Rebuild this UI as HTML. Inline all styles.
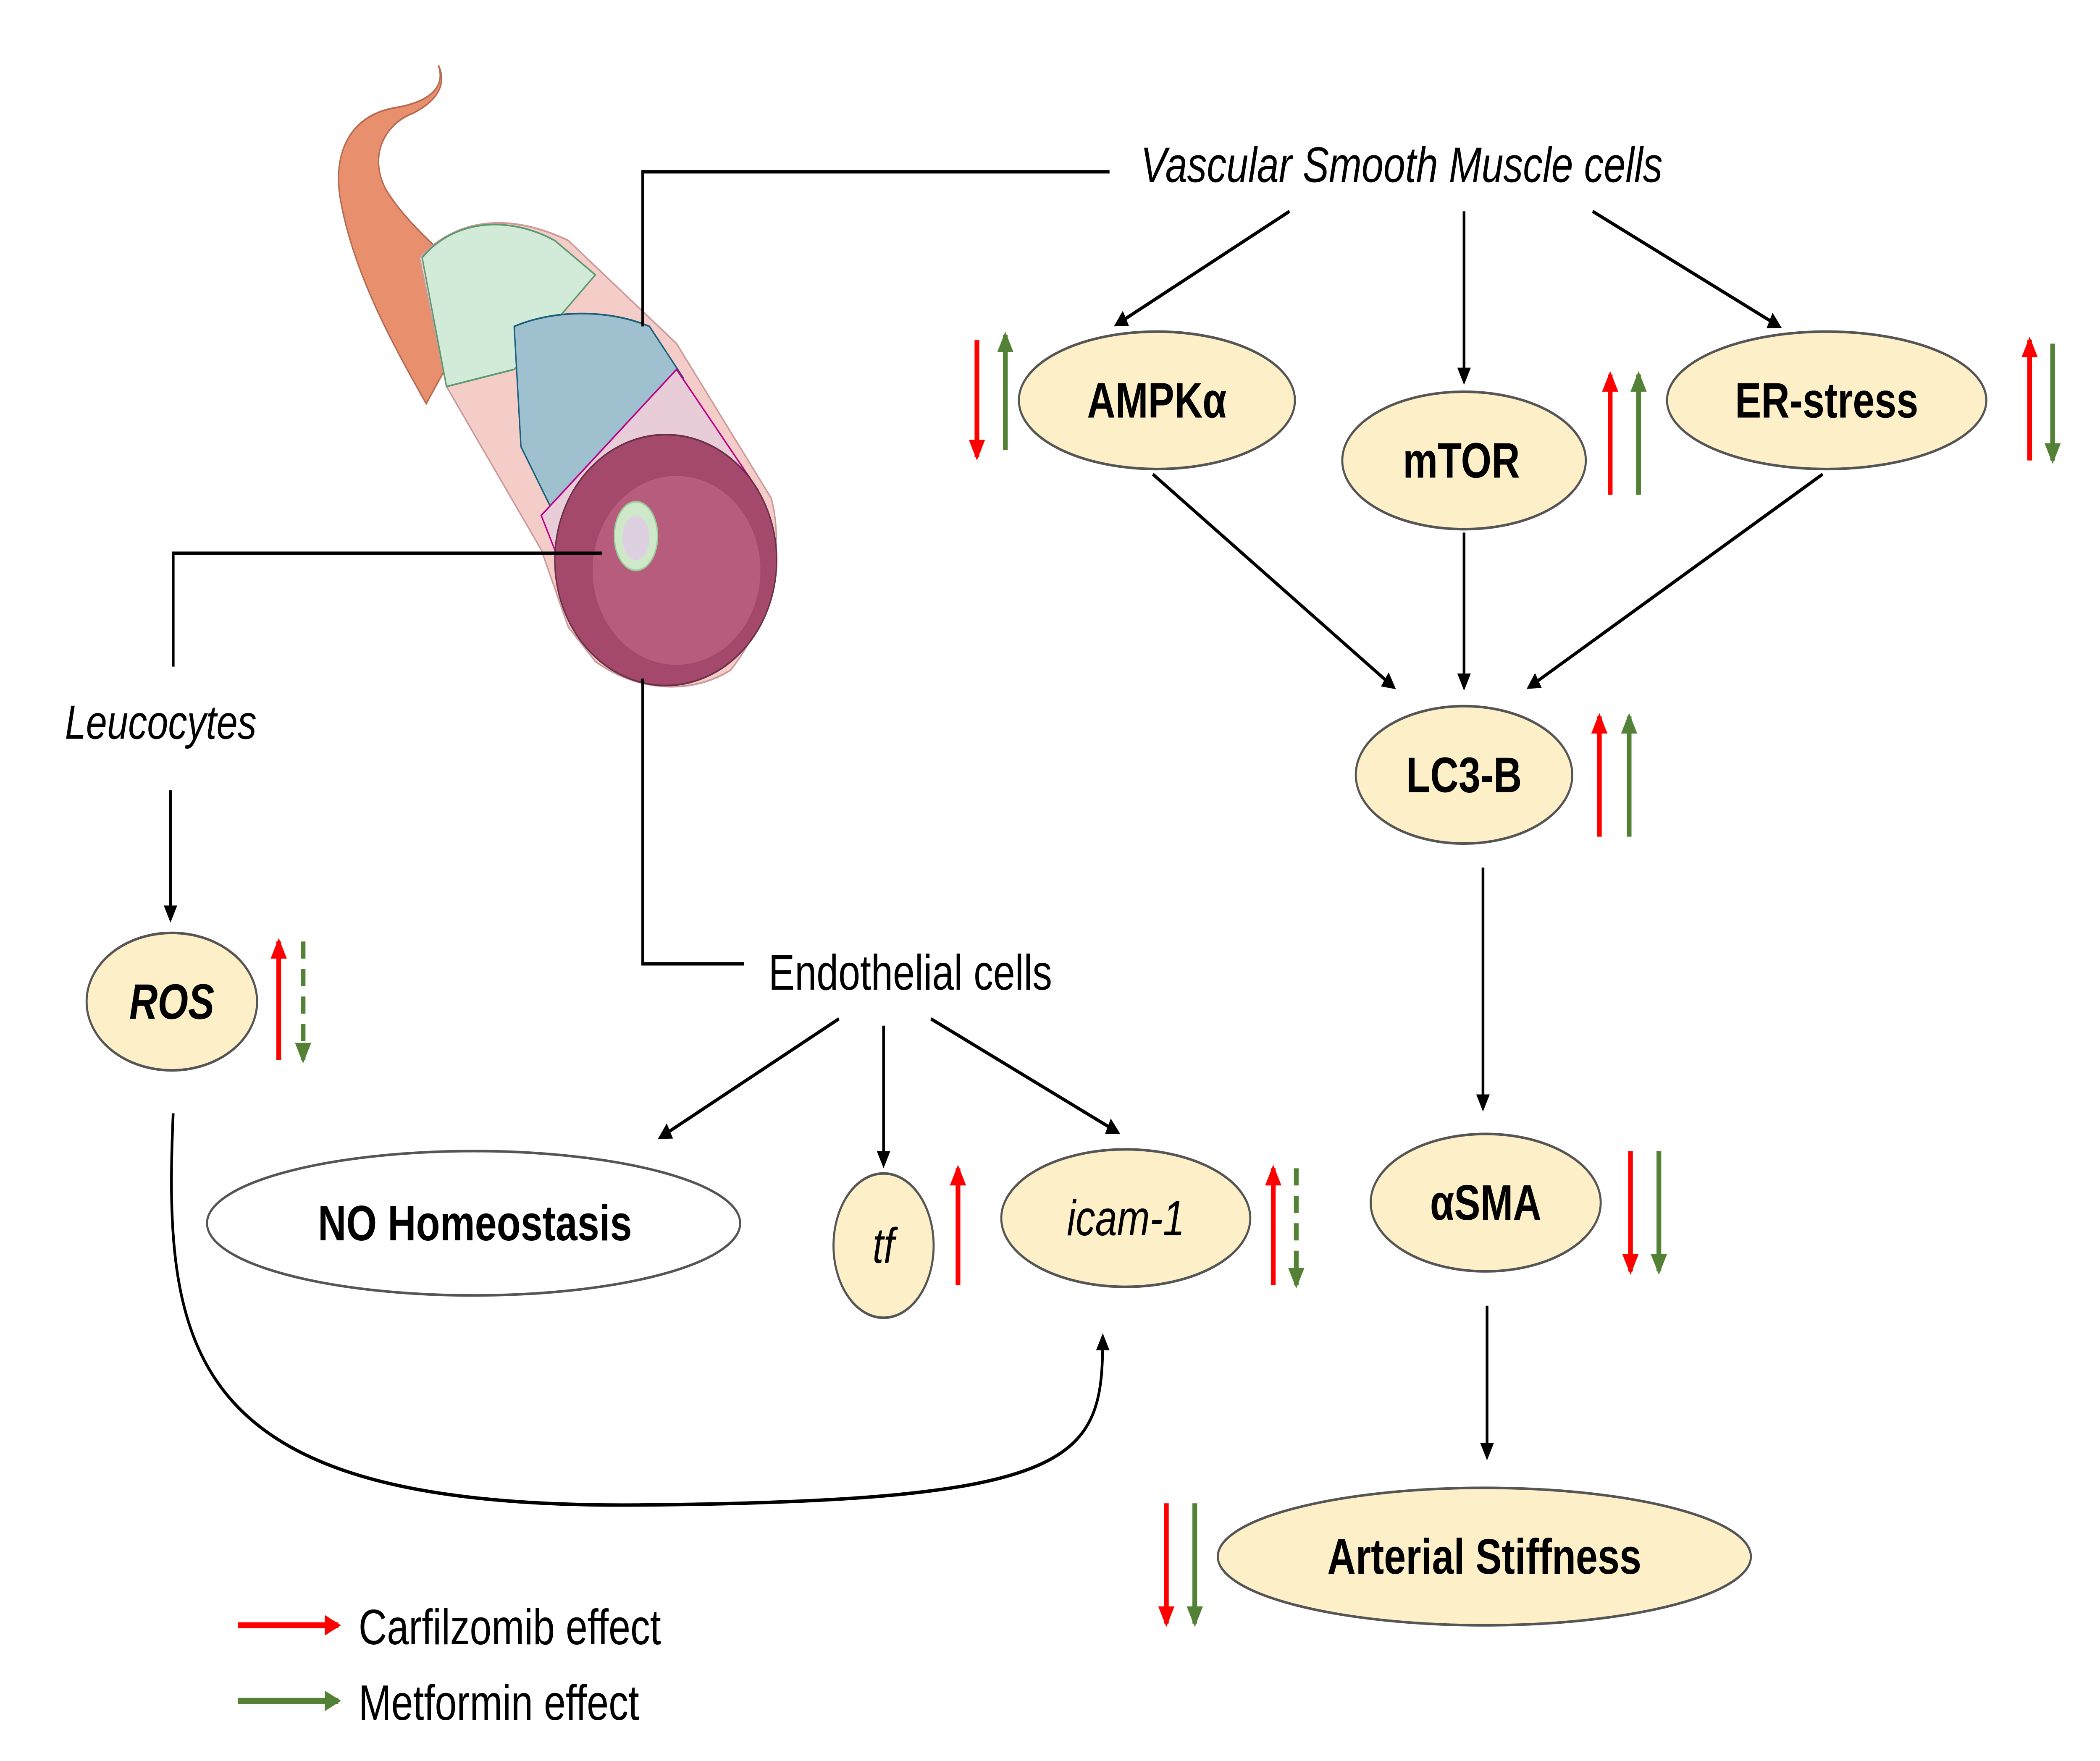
<!DOCTYPE html>
<html><head><meta charset="utf-8"><style>
html,body{margin:0;padding:0;background:#fff;width:100%;height:100%;overflow:hidden;}
svg{display:block;width:100vw;height:100vh;position:absolute;left:0;top:0;}
text{font-family:"Liberation Sans","DejaVu Sans",sans-serif;fill:#000;}
</style></head><body>
<svg viewBox="0 0 1552 1025" preserveAspectRatio="none" xmlns="http://www.w3.org/2000/svg">
<defs>
<marker id="ak" markerWidth="10" markerHeight="10" refX="8" refY="5" orient="auto" markerUnits="userSpaceOnUse"><path d="M0,0 L10,5 L0,10 z" fill="#000"/></marker>
<marker id="ar" markerWidth="12" markerHeight="12" refX="10" refY="6" orient="auto" markerUnits="userSpaceOnUse"><path d="M0,0 L12,6 L0,12 z" fill="#f00"/></marker>
<marker id="ag" markerWidth="12" markerHeight="12" refX="10" refY="6" orient="auto" markerUnits="userSpaceOnUse"><path d="M0,0 L12,6 L0,12 z" fill="#538135"/></marker>
</defs>
<rect width="1552" height="1025" fill="#fff"/>

<!-- artery sketch -->
<path d="M324,38 C330,52 315,60 290,63 C258,68 245,90 252,118 C262,160 290,200 315,235 L360,170 C330,150 300,130 285,110 C272,90 285,72 305,66 C325,58 330,48 324,38Z" fill="#e8906e" stroke="#b86a50"/>
<path d="M310,150 C340,125 380,125 420,140 L500,200 L570,290 C580,320 570,360 540,390 C510,405 470,402 440,385 L420,365 L400,320 L330,225 Z" fill="#f5cdc8" stroke="#c99"/>
<path d="M312,150 C335,128 375,125 410,140 L440,160 L380,215 L330,225 Z" fill="#d2ebd8" stroke="#5a9a6e"/>
<path d="M380,190 C410,180 450,180 480,190 L505,220 L410,300 L385,260 Z" fill="#9fc1cf" stroke="#1a5f7a"/>
<path d="M400,300 L500,215 L560,285 L430,360 Z" fill="#e8cdd8" stroke="#b08"/>
<ellipse cx="492" cy="326" rx="82" ry="73" fill="#a4496c" stroke="#6a3048"/>
<ellipse cx="500" cy="332" rx="62" ry="55" fill="#b85c7e"/>
<ellipse cx="470" cy="312" rx="16" ry="20" fill="#cfe8c9" stroke="#9c9"/>
<ellipse cx="470" cy="313" rx="10" ry="13" fill="#ddd0e0"/>

<g stroke="#000" stroke-width="2" fill="none">
<polyline points="475,190 475,100 820,100"/>
<polyline points="445,322 128,322 128,388"/>
<polyline points="475,395 475,561 550,561"/>
<line x1="953" y1="123" x2="825" y2="189" marker-end="url(#ak)"/>
<line x1="1082" y1="123" x2="1082" y2="222" marker-end="url(#ak)"/>
<line x1="1177" y1="123" x2="1315" y2="190" marker-end="url(#ak)"/>
<line x1="852" y1="276" x2="1030" y2="400" marker-end="url(#ak)"/>
<line x1="1082" y1="310" x2="1082" y2="400" marker-end="url(#ak)"/>
<line x1="1347" y1="276" x2="1130" y2="400" marker-end="url(#ak)"/>
<line x1="1096" y1="505" x2="1096" y2="645" marker-end="url(#ak)"/>
<line x1="1099" y1="760" x2="1099" y2="848" marker-end="url(#ak)"/>
<line x1="126" y1="460" x2="126" y2="535" marker-end="url(#ak)"/>
<line x1="620" y1="593" x2="488" y2="662" marker-end="url(#ak)"/>
<line x1="653" y1="597" x2="653" y2="678" marker-end="url(#ak)"/>
<line x1="688" y1="593" x2="826" y2="659" marker-end="url(#ak)"/>
<path d="M128,648 C120,790 140,878 470,876 C800,874 815,850 815,778" marker-end="url(#ak)"/>
</g>

<g stroke="#555" stroke-width="1.5">
<ellipse cx="855" cy="233" rx="102" ry="40" fill="#fdefc8"/>
<ellipse cx="1082" cy="268" rx="90" ry="40" fill="#fdefc8"/>
<ellipse cx="1350" cy="233" rx="118" ry="40" fill="#fdefc8"/>
<ellipse cx="1082" cy="451" rx="80" ry="40" fill="#fdefc8"/>
<ellipse cx="1098" cy="700" rx="85" ry="40" fill="#fdefc8"/>
<ellipse cx="1097" cy="906" rx="197" ry="40" fill="#fdefc8"/>
<ellipse cx="127" cy="583" rx="63" ry="40" fill="#fdefc8"/>
<ellipse cx="350" cy="712" rx="197" ry="42" fill="#fff"/>
<ellipse cx="653" cy="725" rx="37" ry="42" fill="#fdefc8"/>
<ellipse cx="832" cy="709" rx="92" ry="40" fill="#fdefc8"/>
</g>

<g font-weight="bold" font-size="29" text-anchor="middle">
<text x="855" y="243">AMPKα</text>
<text x="1080" y="278">mTOR</text>
<text x="1350" y="243">ER-stress</text>
<text x="1082" y="461">LC3-B</text>
<text x="1098" y="710">αSMA</text>
<text x="1097" y="916">Arterial Stiffness</text>
<text x="351" y="722">NO Homeostasis</text>
<text x="127" y="593" font-style="italic">ROS</text>
</g>
<g font-size="29" text-anchor="middle" font-style="italic">
<text x="653" y="735">tf</text>
<text x="832" y="719">icam-1</text>
</g>
<text x="843" y="106" font-size="29" font-style="italic">Vascular Smooth Muscle cells</text>
<text x="48" y="430" font-size="28" font-style="italic">Leucocytes</text>
<text x="568" y="576" font-size="29">Endothelial cells</text>
<text x="265" y="957" font-size="29">Carfilzomib effect</text>
<text x="265" y="1001" font-size="29">Metformin effect</text>

<g stroke-width="3.5" fill="none">
<line x1="722" y1="198" x2="722" y2="266" stroke="#f00" marker-end="url(#ar)"/>
<line x1="743" y1="262" x2="743" y2="195" stroke="#538135" marker-end="url(#ag)"/>
<line x1="1190" y1="288" x2="1190" y2="218" stroke="#f00" marker-end="url(#ar)"/>
<line x1="1211" y1="288" x2="1211" y2="218" stroke="#538135" marker-end="url(#ag)"/>
<line x1="1500" y1="268" x2="1500" y2="198" stroke="#f00" marker-end="url(#ar)"/>
<line x1="1517" y1="200" x2="1517" y2="268" stroke="#538135" marker-end="url(#ag)"/>
<line x1="1182" y1="487" x2="1182" y2="417" stroke="#f00" marker-end="url(#ar)"/>
<line x1="1204" y1="487" x2="1204" y2="417" stroke="#538135" marker-end="url(#ag)"/>
<line x1="1205" y1="670" x2="1205" y2="740" stroke="#f00" marker-end="url(#ar)"/>
<line x1="1226" y1="670" x2="1226" y2="740" stroke="#538135" marker-end="url(#ag)"/>
<line x1="862" y1="875" x2="862" y2="945" stroke="#f00" marker-end="url(#ar)"/>
<line x1="883" y1="875" x2="883" y2="945" stroke="#538135" marker-end="url(#ag)"/>
<line x1="206" y1="617" x2="206" y2="548" stroke="#f00" marker-end="url(#ar)"/>
<line x1="224" y1="548" x2="224" y2="617" stroke="#538135" stroke-dasharray="10,6" marker-end="url(#ag)"/>
<line x1="708" y1="748" x2="708" y2="680" stroke="#f00" marker-end="url(#ar)"/>
<line x1="941" y1="748" x2="941" y2="680" stroke="#f00" marker-end="url(#ar)"/>
<line x1="958" y1="680" x2="958" y2="748" stroke="#538135" stroke-dasharray="10,6" marker-end="url(#ag)"/>
<line x1="176" y1="946" x2="250" y2="946" stroke="#f00" marker-end="url(#ar)"/>
<line x1="176" y1="990" x2="250" y2="990" stroke="#538135" marker-end="url(#ag)"/>
</g>
</svg>
</body></html>
